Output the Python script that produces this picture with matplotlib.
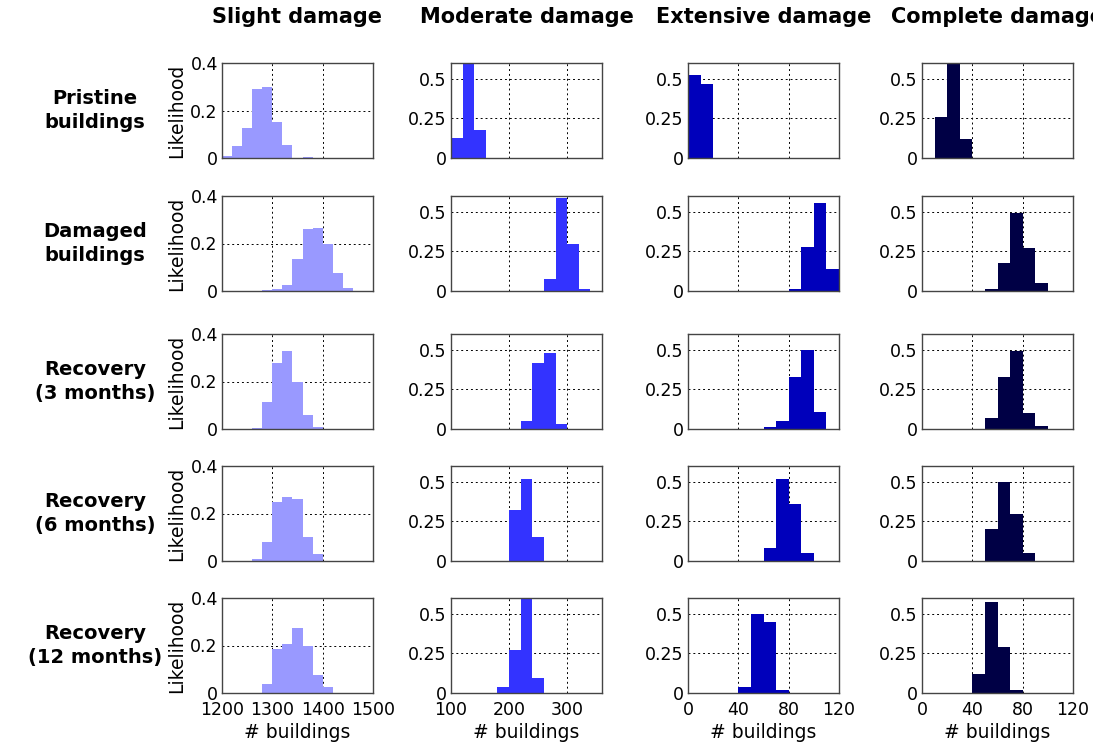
"""Histograms of damaged-building counts per damage state and recovery stage."""

import matplotlib.pyplot as plt

damage_states = ["Slight damage", "Moderate damage", "Extensive damage", "Complete damage"]
stages = ["Pristine\nbuildings", "Damaged\nbuildings", "Recovery\n(3 months)",
          "Recovery\n(6 months)", "Recovery\n(12 months)"]
colors = ["#9999ff", "#3333ff", "#0000bb", "#000045"]

# bin layout per damage state
bin_width = [20, 20, 10, 10]
x_limits = [(1200, 1500), (100, 360), (0, 120), (0, 120)]
x_ticks = [[1200, 1300, 1400, 1500], [100, 200, 300], [0, 40, 80, 120], [0, 40, 80, 120]]
y_limits = [0.4, 0.6, 0.6, 0.6]
y_ticks = [[0, 0.2, 0.4], [0, 0.25, 0.5], [0, 0.25, 0.5], [0, 0.25, 0.5]]
y_ticklabels = [["0", "0.2", "0.4"], ["0", "0.25", "0.5"], ["0", "0.25", "0.5"], ["0", "0.25", "0.5"]]

# left edge of first bin and likelihood per bin, rows = stages
slight_start = [1200, 1280, 1260, 1260, 1280]
slight_vals = [
    [0.01, 0.05, 0.125, 0.29, 0.30, 0.153, 0.055, 0.0, 0.003],
    [0.003, 0.01, 0.025, 0.133, 0.262, 0.267, 0.20, 0.075, 0.013],
    [0.005, 0.115, 0.28, 0.33, 0.20, 0.06, 0.01],
    [0.01, 0.08, 0.25, 0.27, 0.26, 0.10, 0.03],
    [0.04, 0.185, 0.205, 0.275, 0.196, 0.075, 0.025],
]
moderate_start = [100, 240, 220, 200, 180]
moderate_vals = [
    [0.125, 0.69, 0.18, 0.003],
    [0.003, 0.075, 0.59, 0.30, 0.015, 0.003],
    [0.05, 0.42, 0.48, 0.03],
    [0.32, 0.52, 0.15],
    [0.035, 0.27, 0.61, 0.095],
]
extensive_start = [0, 80, 60, 60, 40]
extensive_vals = [
    [0.525, 0.47],
    [0.015, 0.28, 0.556, 0.14],
    [0.01, 0.05, 0.33, 0.50, 0.11],
    [0.08, 0.52, 0.36, 0.05],
    [0.035, 0.50, 0.45, 0.02],
]
complete_start = [10, 50, 50, 50, 40]
complete_vals = [
    [0.26, 0.62, 0.12],
    [0.01, 0.175, 0.49, 0.27, 0.05],
    [0.07, 0.33, 0.49, 0.10, 0.02],
    [0.20, 0.50, 0.30, 0.05],
    [0.12, 0.575, 0.29, 0.02],
]

starts = [slight_start, moderate_start, extensive_start, complete_start]
values = [slight_vals, moderate_vals, extensive_vals, complete_vals]

W, H = 1093, 742
col_left = [222, 451, 688, 922]
row_top = [63, 196, 334, 466, 598]
ax_w, ax_h = 151, 95

fig = plt.figure(figsize=(W / 100, H / 100), dpi=100)

for r, stage in enumerate(stages):
    for c, state in enumerate(damage_states):
        ax = fig.add_axes([col_left[c] / W, 1 - (row_top[r] + ax_h) / H, ax_w / W, ax_h / H])
        heights = values[c][r]
        lefts = [starts[c][r] + i * bin_width[c] for i in range(len(heights))]
        ax.bar(lefts, heights, width=bin_width[c], align="edge",
               color=colors[c], linewidth=0, zorder=2)
        ax.set_xlim(*x_limits[c])
        ax.set_ylim(0, y_limits[c])
        ax.set_xticks(x_ticks[c])
        ax.set_yticks(y_ticks[c])
        ax.set_yticklabels(y_ticklabels[c])
        ax.grid(True, color="black", linestyle=(0, (2, 3)), linewidth=0.7, zorder=1)
        ax.tick_params(length=0, labelsize=12.5)
        ax.tick_params(axis="y", pad=3)
        ax.tick_params(axis="x", pad=6)
        for sp in ax.spines.values():
            sp.set_color("#444444")
            sp.set_linewidth(1.0)
        if r < len(stages) - 1:
            ax.set_xticklabels([])
        else:
            ax.set_xlabel("# buildings", fontsize=13.5, labelpad=3)
        if c == 0:
            ax.set_ylabel("Likelihood", fontsize=13.5, labelpad=3)
            fig.text(95 / W, 1 - (row_top[r] + ax_h / 2) / H, stage, ha="center",
                     va="center", fontsize=14, fontweight="bold", linespacing=1.3)
        if r == 0:
            fig.text((col_left[c] + ax_w / 2) / W, 1 - 17 / H, state, ha="center",
                     va="center", fontsize=15, fontweight="bold")

fig.savefig("out.png", dpi=100)
